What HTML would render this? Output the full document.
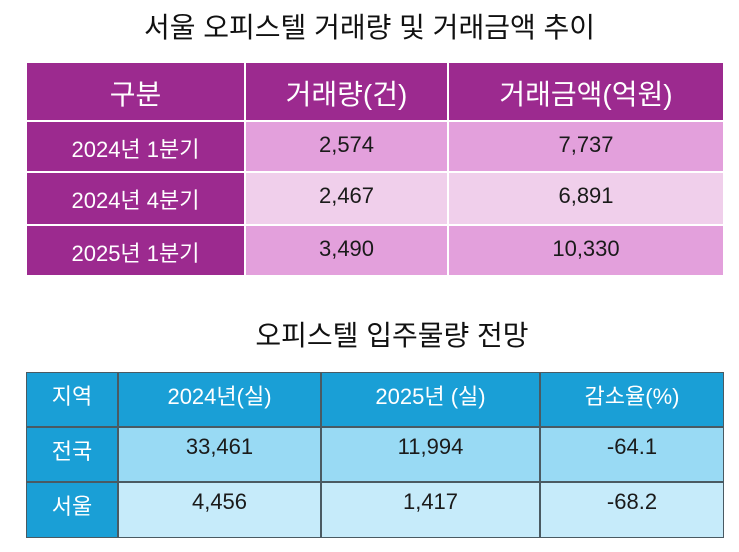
<!DOCTYPE html>
<html><head><meta charset="utf-8"><style>
body{margin:0;width:739px;height:552px;background:#fff;font-family:"Liberation Sans","Noto Sans CJK KR",sans-serif;position:relative;overflow:hidden}
.t{position:absolute;white-space:nowrap;color:#111}
.c{position:absolute;box-sizing:border-box;text-align:center;white-space:nowrap}
</style></head><body>
<div class="t" style="left:0;width:739px;text-align:center;top:6px;font-size:28px">서울 오피스텔 거래량 및 거래금액 추이</div>
<div class="t" style="left:243px;width:298px;text-align:center;top:314px;font-size:28px">오피스텔 입주물량 전망</div>
<div id="t1"></div>
<div id="t2"></div>
<script>
var t1Cols=[26,245,448,724], t1Rows=[62,121,172,225,276];
var t1Data=[["구분","거래량(건)","거래금액(억원)"],["2024년 1분기","2,574","7,737"],["2024년 4분기","2,467","6,891"],["2025년 1분기","3,490","10,330"]];
var t2Cols=[26,118,321,540,724], t2Rows=[372,427,482,538];
var t2Data=[["지역","2024년(실)","2025년 (실)","감소율(%)"],["전국","33,461","11,994","-64.1"],["서울","4,456","1,417","-68.2"]];
function build(host,cols,rows,data,style){
  for(var r=0;r<data.length;r++)for(var c=0;c<data[r].length;c++){
    var d=document.createElement('div');d.className='c';
    
    
    var s=style(r,c);
    d.style.left=cols[c]+'px';d.style.top=rows[r]+'px';
    d.style.width=(cols[c+1]-cols[c])+'px';d.style.height=(rows[r+1]-rows[r])+'px';
    d.style.background=s.bg;d.style.color=s.fg;d.style.fontSize=s.fs+'px';
    d.style.paddingTop=s.pt+'px';d.style.border=s.b;
    d.textContent=data[r][c];host.appendChild(d);
  }
}
build(document.getElementById('t1'),t1Cols,t1Rows,t1Data,function(r,c){
  var head=r==0||c==0;
  return {bg:head?'#9c2a8f':(r==2?'#f0cfeb':'#e3a0dc'),fg:head?'#fff':'#1a1a1a',fs:r==0?28:22,pt:r==0?10:10,b:'1px solid #fff'};
});
build(document.getElementById('t2'),t2Cols,t2Rows,t2Data,function(r,c){
  var head=r==0||c==0;
  return {bg:head?'#1a9fd6':(r==1?'#99daf4':'#c6ebfa'),fg:head?'#fff':'#1a1a1a',fs:22,pt:6,b:'1px solid #4a5a62'};
});
</script>
</body></html>
